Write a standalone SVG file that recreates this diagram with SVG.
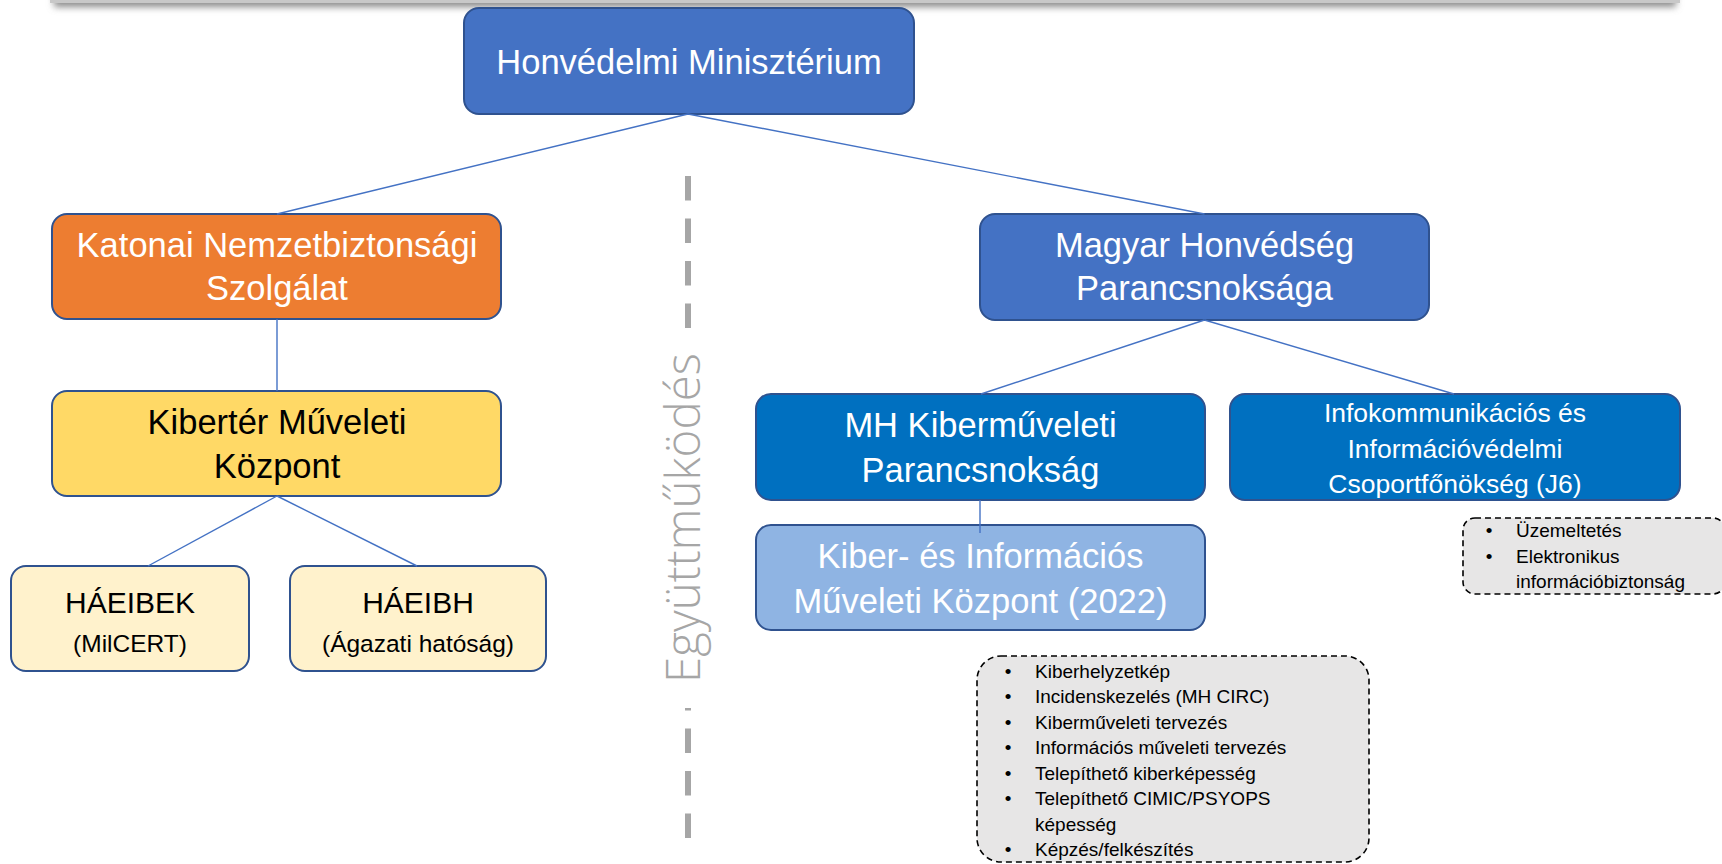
<svg xmlns="http://www.w3.org/2000/svg" width="1722" height="864" viewBox="0 0 1722 864">
<defs>
<filter id="blur" x="-5%" y="-100%" width="110%" height="300%"><feGaussianBlur stdDeviation="3.5"/></filter>
<style>
.node{stroke:#2F528F;stroke-width:2}
.t{font-family:"Liberation Sans",Arial,sans-serif;text-anchor:middle}
.w{fill:#ffffff}
.k{fill:#000000}
.big{font-size:34.5px}
.conn{stroke:#4472C4;stroke-width:1.4;fill:none}
.note{fill:#E7E6E6;stroke:#000000;stroke-width:1.6;stroke-dasharray:6 4}
.nt{font-family:"Liberation Sans",Arial,sans-serif;font-size:19px;fill:#000000}
</style>
</defs>
<rect width="1722" height="864" fill="#ffffff"/>
<g id="topbar">
<rect x="54" y="-30" width="1622" height="37" fill="#8c8c8c" filter="url(#blur)"/>
<rect x="50" y="-30" width="1630" height="33" fill="#c8c8c8"/>
</g>
<g id="divider">
<line x1="688" y1="176" x2="688" y2="840" stroke="#A6A6A6" stroke-width="6" stroke-dasharray="24.5 18"/>
<rect x="660" y="346" width="56" height="362" fill="#ffffff"/>
<text transform="translate(700,518) rotate(-90)" text-anchor="middle" font-family="'Open Sans','Liberation Sans',sans-serif" font-weight="300" font-size="47" fill="#A6A6A6" textLength="330" lengthAdjust="spacingAndGlyphs">Együttműködés</text>
</g>
<g id="hm">
<rect class="node" x="464" y="8" width="450" height="106" rx="15" fill="#4472C4"/>
<text class="t w big" x="689" y="74">Honvédelmi Minisztérium</text>
</g>
<g id="knbsz">
<rect class="node" x="52" y="214" width="449" height="105" rx="15" fill="#ED7D31"/>
<text class="t w big" x="277" y="257">Katonai Nemzetbiztonsági</text>
<text class="t w big" x="277" y="300">Szolgálat</text>
</g>
<g id="kmk">
<rect class="node" x="52" y="391" width="449" height="105" rx="15" fill="#FFD966"/>
<text class="t k big" x="277" y="434">Kibertér Műveleti</text>
<text class="t k big" x="277" y="478">Központ</text>
</g>
<g id="haeibek">
<rect class="node" x="11" y="566" width="238" height="105" rx="15" fill="#FFF2CC"/>
<text class="t k" x="130" y="613" font-size="30">HÁEIBEK</text>
<text class="t k" x="130" y="652" font-size="24.5">(MilCERT)</text>
</g>
<g id="haeibh">
<rect class="node" x="290" y="566" width="256" height="105" rx="15" fill="#FFF2CC"/>
<text class="t k" x="418" y="613" font-size="30">HÁEIBH</text>
<text class="t k" x="418" y="652" font-size="24.5">(Ágazati hatóság)</text>
</g>
<g id="mhp">
<rect class="node" x="980" y="214" width="449" height="106" rx="15" fill="#4472C4"/>
<text class="t w big" x="1204.5" y="257">Magyar Honvédség</text>
<text class="t w big" x="1204.5" y="300">Parancsnoksága</text>
</g>
<g id="mhkmp">
<rect class="node" x="756" y="394" width="449" height="106" rx="15" fill="#0070C0"/>
<text class="t w big" x="980.5" y="437">MH Kiberműveleti</text>
<text class="t w big" x="980.5" y="482">Parancsnokság</text>
</g>
<g id="j6">
<rect class="node" x="1230" y="394" width="450" height="106" rx="15" fill="#0070C0"/>
<text class="t w" x="1455" y="422" font-size="26.5">Infokommunikációs és</text>
<text class="t w" x="1455" y="457.5" font-size="26.5">Információvédelmi</text>
<text class="t w" x="1455" y="493" font-size="26.5">Csoportfőnökség (J6)</text>
</g>
<g id="kimk">
<rect class="node" x="756" y="525" width="449" height="105" rx="15" fill="#8FB4E3"/>
<text class="t w big" x="980.5" y="568">Kiber- és Információs</text>
<text class="t w big" x="980.5" y="613">Műveleti Központ (2022)</text>
</g>
<g id="connectors">
<line class="conn" x1="688" y1="114" x2="277" y2="214"/>
<line class="conn" x1="688" y1="114" x2="1204.5" y2="214"/>
<line class="conn" x1="277" y1="319" x2="277" y2="391"/>
<line class="conn" x1="277" y1="496" x2="148" y2="566"/>
<line class="conn" x1="277" y1="496" x2="417" y2="566"/>
<line class="conn" x1="1204.5" y1="320" x2="981" y2="394"/>
<line class="conn" x1="1204.5" y1="320" x2="1454" y2="394"/>
<line class="conn" x1="980" y1="500" x2="980" y2="533"/>
</g>
<g id="note-j6">
<rect class="note" x="1463" y="518" width="262" height="76" rx="12"/>
<text class="nt" x="1489" y="537" text-anchor="middle">•</text>
<text class="nt" x="1516" y="537">Üzemeltetés</text>
<text class="nt" x="1489" y="563" text-anchor="middle">•</text>
<text class="nt" x="1516" y="563">Elektronikus</text>
<text class="nt" x="1516" y="588">információbiztonság</text>
</g>
<g id="note-kimk">
<rect class="note" x="977" y="656" width="392" height="206" rx="24"/>
<g class="nt" text-anchor="middle">
<text x="1008" y="678">•</text>
<text x="1008" y="703">•</text>
<text x="1008" y="728.5">•</text>
<text x="1008" y="754">•</text>
<text x="1008" y="780">•</text>
<text x="1008" y="805">•</text>
<text x="1008" y="856">•</text>
</g>
<text class="nt" x="1035" y="678">Kiberhelyzetkép</text>
<text class="nt" x="1035" y="703">Incidenskezelés (MH CIRC)</text>
<text class="nt" x="1035" y="728.5">Kiberműveleti tervezés</text>
<text class="nt" x="1035" y="754">Információs műveleti tervezés</text>
<text class="nt" x="1035" y="780">Telepíthető kiberképesség</text>
<text class="nt" x="1035" y="805">Telepíthető CIMIC/PSYOPS</text>
<text class="nt" x="1035" y="830.5">képesség</text>
<text class="nt" x="1035" y="856">Képzés/felkészítés</text>
</g>
</svg>
